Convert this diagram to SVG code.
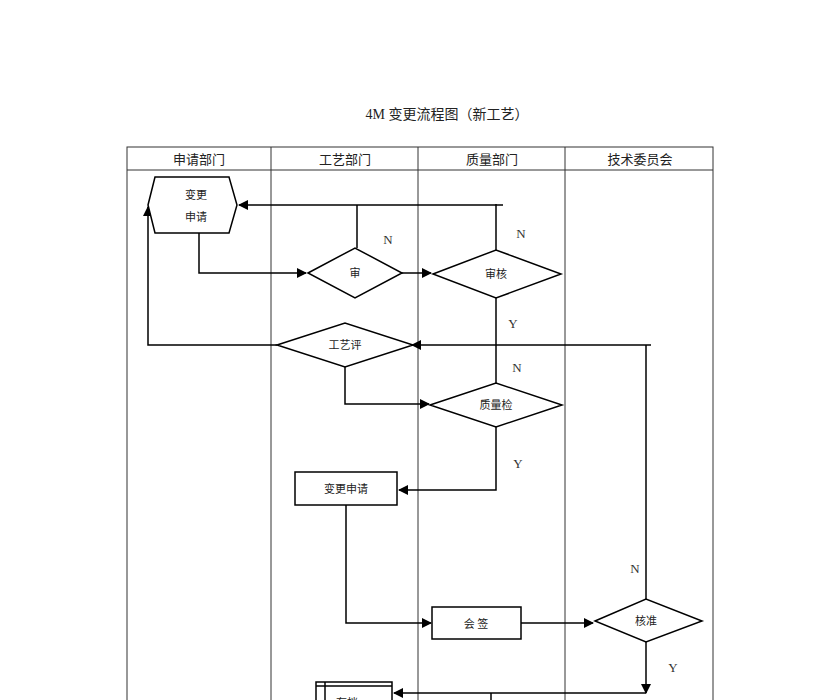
<svg xmlns="http://www.w3.org/2000/svg" width="840" height="700" viewBox="0 0 840 700">
<style>
  .grid { stroke: #333; stroke-width: 1; fill: none; }
  .shape { stroke: #000; stroke-width: 1.5; fill: #fff; }
  .conn { stroke: #000; stroke-width: 1.5; fill: none; }
  .hdr { font-family: "Noto Sans CJK SC", sans-serif; font-size: 13px; fill: #222; text-anchor: middle; }
  .title { font-family: "Liberation Serif", "Noto Sans CJK SC", serif; font-size: 14px; fill: #222; text-anchor: middle; }
  .lbl { font-family: "Noto Sans CJK SC", sans-serif; font-size: 11px; fill: #222; text-anchor: middle; }
  .yn { font-family: "Liberation Serif", serif; font-size: 13px; fill: #333; text-anchor: middle; }
</style>
<defs>
  <marker id="arr" markerWidth="10" markerHeight="10" refX="9" refY="5" orient="auto" markerUnits="userSpaceOnUse">
    <path d="M0,0 L10,5 L0,10 z" fill="#000"/>
  </marker>
</defs>
<rect width="840" height="700" fill="#fff"/>
<text class="title" x="447" y="119">4M 变更流程图（新工艺）</text>
<g id="table">
  <rect class="grid" x="127" y="147" width="586" height="600"/>
  <line class="grid" x1="127" y1="170" x2="713" y2="170"/>
  <line class="grid" x1="271" y1="147" x2="271" y2="700"/>
  <line class="grid" x1="418" y1="147" x2="418" y2="700"/>
  <line class="grid" x1="565" y1="147" x2="565" y2="700"/>
  <text class="hdr" x="199" y="164">申请部门</text>
  <text class="hdr" x="345" y="164">工艺部门</text>
  <text class="hdr" x="492" y="164">质量部门</text>
  <text class="hdr" x="640" y="164">技术委员会</text>
</g>
<g id="connectors">
  <polyline class="conn" points="199,233 199,273 306,273" marker-end="url(#arr)"/>
  <polyline class="conn" points="402,273 431,273" marker-end="url(#arr)"/>
  <polyline class="conn" points="357,248 357,205"/>
  <polyline class="conn" points="496,250 496,204"/>
  <polyline class="conn" points="503,205 239,205" marker-end="url(#arr)"/>
  <polyline class="conn" points="496,298 496,383"/>
  <polyline class="conn" points="651,345 412,345" marker-end="url(#arr)"/>
  <polyline class="conn" points="277,345 148,345 148,207" marker-end="url(#arr)"/>
  <polyline class="conn" points="345,367 345,404 429,404" marker-end="url(#arr)"/>
  <polyline class="conn" points="496,427 496,490 399,490" marker-end="url(#arr)"/>
  <polyline class="conn" points="346,505 346,623 431,623" marker-end="url(#arr)"/>
  <polyline class="conn" points="521,623 593,623" marker-end="url(#arr)"/>
  <polyline class="conn" points="646,345 646,599"/>
  <polyline class="conn" points="646,642 646,693" marker-end="url(#arr)"/>
  <polyline class="conn" points="646,693 394,693" marker-end="url(#arr)"/>
  <line class="conn" x1="491" y1="693" x2="491" y2="700"/>
  <text class="yn" x="388" y="244">N</text>
  <text class="yn" x="521" y="238">N</text>
  <text class="yn" x="513" y="328">Y</text>
  <text class="yn" x="517" y="372">N</text>
  <text class="yn" x="518" y="468">Y</text>
  <text class="yn" x="635" y="573">N</text>
  <text class="yn" x="673" y="672">Y</text>
</g>
<g id="node-apply">
  <polygon class="shape" points="148,205 155,177 229,177 237,205 229,233 155,233"/>
  <text class="lbl" x="196" y="199">变更</text>
  <text class="lbl" x="196" y="221">申请</text>
</g>
<g id="node-review1">
  <polygon class="shape" points="308,273 355,248 402,273 355,298"/>
  <text class="lbl" x="355" y="277" font-size="10">审</text>
</g>
<g id="node-review2">
  <polygon class="shape" points="433,274 496,250 561,274 496,298"/>
  <text class="lbl" x="496" y="278" font-size="10">审核</text>
</g>
<g id="node-process-eval">
  <polygon class="shape" points="277,345 345,323 413,345 345,367"/>
  <text class="lbl" x="345" y="349" font-size="10">工艺评</text>
</g>
<g id="node-quality-check">
  <polygon class="shape" points="430,405 496,383 562,405 496,427"/>
  <text class="lbl" x="496" y="409" font-size="10">质量检</text>
</g>
<g id="node-change-req">
  <rect class="shape" x="295" y="472" width="102" height="33"/>
  <text class="lbl" x="346" y="493" font-size="12">变更申请</text>
</g>
<g id="node-sign">
  <rect class="shape" x="432" y="607" width="89" height="32"/>
  <text class="lbl" x="476" y="628" font-size="12">会  签</text>
</g>
<g id="node-approve">
  <polygon class="shape" points="595,621 646,599 702,621 646,642"/>
  <text class="lbl" x="646" y="625" font-size="10">核准</text>
</g>
<g id="node-archive">
  <rect class="shape" x="316" y="682" width="76" height="30"/>
  <line class="conn" x1="316" y1="686" x2="392" y2="686" stroke-width="1"/>
  <line class="conn" x1="325" y1="682" x2="325" y2="712" stroke-width="1"/>
  <text class="lbl" x="347" y="707" font-size="12">存档</text>
</g>
</svg>
